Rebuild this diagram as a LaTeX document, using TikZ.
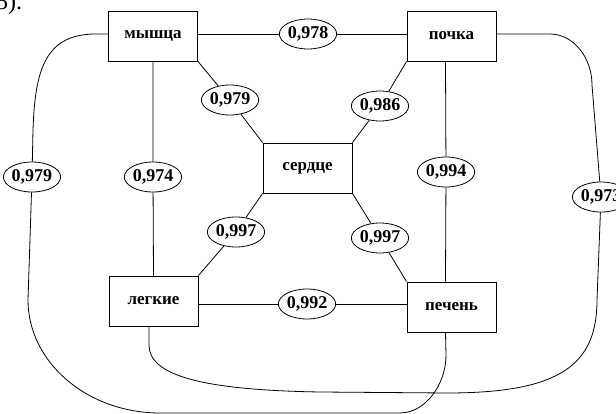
\documentclass[tikz,border=0pt]{standalone}
\usepackage{fontspec}
\setmainfont{Liberation Serif}
\usetikzlibrary{shapes.geometric}
\begin{document}
\begin{tikzpicture}[x=1pt,y=-1pt,
  box/.style={draw, line width=0.9pt, minimum width=89pt, minimum height=50pt, inner sep=0pt,
    font=\bfseries\fontsize{17}{17}\selectfont},
  coef/.style={draw, ellipse, fill=white, line width=0.8pt, minimum width=46pt, minimum height=30pt,
    inner sep=0pt, font=\bfseries\fontsize{18}{18}\selectfont},
  link/.style={draw, line width=0.8pt}]
\useasboundingbox (0,0) rectangle (616,414);
\node[anchor=base west, inner sep=0pt, font=\fontsize{24}{24}\selectfont] (t) at (-4,10) {5).};
% boxes
\node[box] (m) at (153,36) {мышца};
\node[box] (k) at (451.5,36) {почка};
\node[box] (s) at (307.5,168) {сердце};
\node[box] (l) at (153.5,301) {легкие};
\node[box] (p) at (451.5,307) {печень};
% coefficients
\node[coef] (e1) at (308,34) {0,978};
\node[coef] (e2) at (230,100) {0,979};
\node[coef] (e3) at (380,106) {0,986};
\node[coef] (e4) at (153,177) {0,974};
\node[coef] (e5) at (446,172) {0,994};
\node[coef] (e6) at (236,232) {0,997};
\node[coef] (e7) at (380,238) {0,997};
\node[coef] (e8) at (307,304) {0,992};
\node[coef] (e9) at (32,177) {0,979};
\node[coef] (e10) at (601,197) {0,973};
% straight links
\path[link] ([yshift=2pt]m.east) -- (e1) -- ([yshift=2pt]k.west);
\path[link] (m.south) -- (e4) -- (l.north);
\path[link] (m.south east) -- (e2) -- (s.north west);
\path[link] (k.south west) -- (e3) -- (s.north east);
\path[link] ([xshift=-6pt]k.south) -- (e5) -- ([xshift=-6pt]p.north);
\path[link] (s.south west) -- (e6) -- (l.north east);
\path[link] (s.south east) -- (e7) -- (p.north west);
\path[link] ([yshift=-3pt]l.east) -- (e8) -- ([yshift=3pt]p.west);
% curved links
\path[link] ([yshift=2pt]m.west) -- (96,34) .. controls (45,34) and (35,70) .. (33,130) -- (e9);
\path[link] (e9) -- (28,300) .. controls (28,362) and (87,413) .. (160,413) -- (400,413)
  .. controls (425,413) and (446,385) .. (446,355) -- ([xshift=-6pt]p.south);
\path[link] ([yshift=2pt]k.east) -- (550,34) .. controls (573,34) and (592,57) .. (592,85) -- (e10);
\path[link] (e10) -- (597,300) .. controls (597,365) and (560,393) .. (447,393) -- (320,392)
  .. controls (200,390) and (149,375) .. (149,345) -- ([xshift=-4.5pt]l.south);
\end{tikzpicture}
\end{document}
